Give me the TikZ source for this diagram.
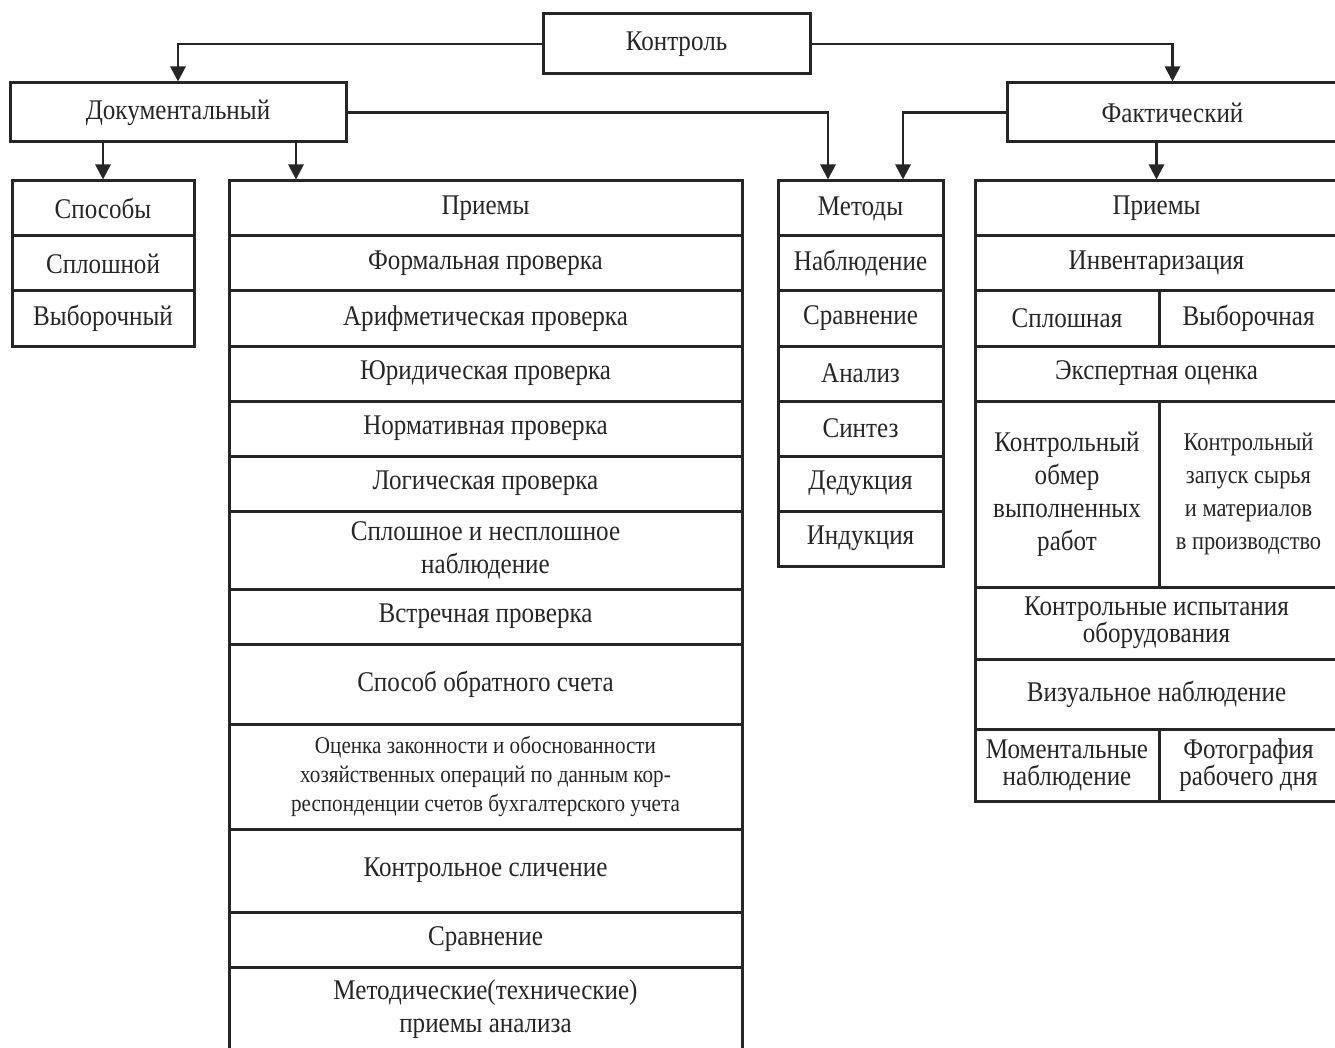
\documentclass[tikz,border=0pt]{standalone}
\usepackage{fontspec}
\setmainfont{Liberation Serif}[FakeStretch=0.88]
\usetikzlibrary{arrows.meta}
\definecolor{ink}{HTML}{262626}

\begin{document}
\begin{tikzpicture}[x=1pt,y=-1pt]
\tikzset{every node/.style={font=\fontsize{28.5}{33}\selectfont,text=ink}}
\tikzset{cell/.style={draw=ink,line width=3pt,inner sep=0pt,align=center}}
\tikzset{link/.style={draw=ink,line width=2.8pt,-{Triangle[width=15pt,length=15pt]}}}
\tikzset{smalltext/.style={font=\fontsize{24}{29}\selectfont}}
\tikzset{tighttext/.style={font=\fontsize{28.5}{27}\selectfont}}
\tikzset{spcol/.style={cell,minimum width=182pt,minimum height=55pt}}
\tikzset{dpcol/.style={cell,minimum width=513pt,minimum height=55pt}}
\tikzset{metcol/.style={cell,minimum width=165pt,minimum height=55pt}}
\tikzset{fpcol/.style={cell,minimum width=363pt,minimum height=55pt}}
\tikzset{fpleft/.style={cell,minimum width=184pt,minimum height=55pt}}
\tikzset{fpright/.style={cell,minimum width=179pt,minimum height=55pt}}

\useasboundingbox (0,0) rectangle (1335,1048);

% top levels
\node[cell,minimum width=267pt,minimum height=60pt] (kontrol) at (676.5,44) {Контроль};
\node[cell,minimum width=336pt,minimum height=59pt] (doc) at (178,112.5) {Документальный};
\node[cell,minimum width=331pt,minimum height=59pt] (fakt) at (1172.5,112.5) {Фактический};

% documentary: ways
\foreach \t [count=\i] in {Способы,Сплошной,Выборочный}
  \node[spcol] (sp\i) at (103,153.5+55*\i) {\t};

% documentary: techniques
\foreach \t [count=\i] in {Приемы,Формальная проверка,Арифметическая проверка,Юридическая проверка,Нормативная проверка,Логическая проверка}
  \node[dpcol] (dp\i) at (485.5,153.5+55*\i) {\t};
\node[dpcol,minimum height=78pt] (dp7) at (485.5,550) {Сплошное и несплошное\\наблюдение};
\node[dpcol] (dp8) at (485.5,616.5) {Встречная проверка};
\node[dpcol,minimum height=80pt] (dp9) at (485.5,684) {Способ обратного счета};
\node[dpcol,minimum height=105pt,smalltext] (dp10) at (485.5,776.5) {Оценка законности и обоснованности\\хозяйственных операций по данным кор-\\респонденции счетов бухгалтерского учета};
\node[dpcol,minimum height=83pt] (dp11) at (485.5,870.5) {Контрольное сличение};
\node[dpcol] (dp12) at (485.5,939.5) {Сравнение};
\node[dpcol,minimum height=85pt] (dp13) at (485.5,1009.5) {Методические(технические)\\приемы анализа};

% methods
\foreach \t [count=\i] in {Методы,Наблюдение,Сравнение,Анализ,Синтез,Дедукция,Индукция}
  \node[metcol] (met\i) at (860.5,153.5+55*\i) {\t};

% factual: techniques
\node[fpcol] (fp1) at (1156.5,208.5) {Приемы};
\node[fpcol] (fp2) at (1156.5,263.5) {Инвентаризация};
\node[fpleft] (fp3a) at (1067,318.5) {Сплошная};
\node[fpright] (fp3b) at (1248.5,318.5) {Выборочная};
\node[fpcol] (fp4) at (1156.5,373.5) {Экспертная оценка};
\node[fpleft,minimum height=186pt] (fp5a) at (1067,494) {Контрольный\\обмер\\выполненных\\работ};
\node[fpright,minimum height=186pt,font=\fontsize{25.5}{33}\selectfont] (fp5b) at (1248.5,494) {Контрольный\\запуск сырья\\и материалов\\в производство};
\node[fpcol,minimum height=72pt,tighttext] (fp6) at (1156.5,623) {Контрольные испытания\\оборудования};
\node[fpcol,minimum height=70pt] (fp7) at (1156.5,694) {Визуальное наблюдение};
\node[fpleft,minimum height=72pt,tighttext] (fp8a) at (1067,765) {Моментальные\\наблюдение};
\node[fpright,minimum height=72pt,tighttext] (fp8b) at (1248.5,765) {Фотография\\рабочего дня};

% connectors
\coordinate (metL) at ([xshift=-32.5pt]met1.north);
\coordinate (metR) at ([xshift=42.5pt]met1.north);
\coordinate (dpin) at ([xshift=-189.5pt]dp1.north);
\draw[link] (kontrol.west) -| (doc.north);
\draw[link] (kontrol.east) -| (fakt.north);
\draw[link] (doc.east) -| (metL);
\draw[link] (fakt.west) -| (metR);
\draw[link] (doc.south -| sp1.north) -- (sp1.north);
\draw[link] (doc.south -| dpin) -- (dpin);
\draw[link] (fakt.south -| fp1.north) -- (fp1.north);

\end{tikzpicture}
\end{document}
